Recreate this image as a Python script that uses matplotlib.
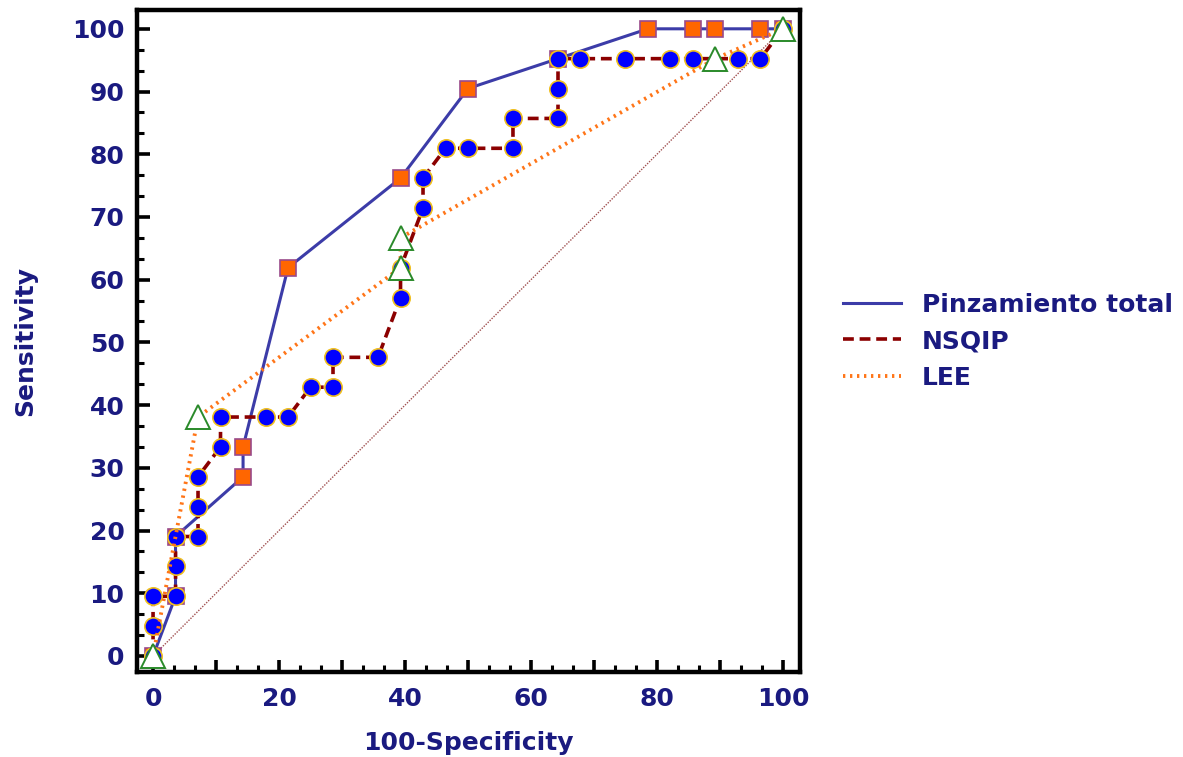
import matplotlib
matplotlib.use("Agg")
import matplotlib.pyplot as plt
from matplotlib.ticker import MultipleLocator
from matplotlib.lines import Line2D

# ROC points (100-Specificity, Sensitivity)
pinz_x = [0, 3.57, 3.57, 14.29, 14.29, 21.43, 39.29, 50.0, 64.29, 78.57, 85.71, 89.29, 96.43, 100]
pinz_y = [0, 9.52, 19.05, 28.57, 33.33, 61.90, 76.19, 90.48, 95.24, 100, 100, 100, 100, 100]

nsqip_x = [0, 0, 0, 3.57, 3.57, 3.57, 7.14, 7.14, 7.14, 10.71, 10.71, 17.86, 21.43, 25.0,
           28.57, 28.57, 35.71, 39.29, 39.29, 42.86, 42.86, 46.43, 50.0, 57.14, 57.14,
           64.29, 64.29, 64.29, 67.86, 75.0, 82.14, 85.71, 92.86, 96.43, 100]
nsqip_y = [0, 4.76, 9.52, 9.52, 14.29, 19.05, 19.05, 23.81, 28.57, 33.33, 38.10, 38.10,
           38.10, 42.86, 42.86, 47.62, 47.62, 57.14, 61.90, 71.43, 76.19, 80.95, 80.95,
           80.95, 85.71, 85.71, 90.48, 95.24, 95.24, 95.24, 95.24, 95.24, 95.24, 95.24, 100]

lee_x = [0, 7.14, 39.29, 39.29, 89.29, 100]
lee_y = [0, 38.10, 61.90, 66.67, 95.24, 100]

series_names = ["Pinzamiento total", "NSQIP", "LEE"]
xticks = list(range(0, 101, 10))
yticks = list(range(0, 101, 10))

navy = "#1a1a80"
fs = 18

fig = plt.figure(figsize=(11.83, 7.57), dpi=100)
ax = fig.add_axes([0.1158, 0.1123, 0.5604, 0.8745])

# chance diagonal
ax.plot([0, 100], [0, 100], ls=(0, (1, 1)), color="#a05050", lw=1.0, zorder=1)

ax.plot(pinz_x, pinz_y, color="#3c3ca8", lw=2.2, marker="s", ms=11.5,
        mfc="#ff6600", mec="#9a4a8a", mew=1.2, label=series_names[0], zorder=2)
ax.plot(nsqip_x, nsqip_y, color="#8b0000", lw=2.6, ls=(0, (3, 1.6)), marker="o", ms=12.5,
        mfc="#0000ff", mec="#f0c020", mew=1.2, label=series_names[1], zorder=3)
ax.plot(lee_x, lee_y, color="#ff7518", lw=2.8, ls=(0, (0.6, 1.2)), marker="^", ms=17,
        mfc="white", mec="#2a8a2a", mew=1.4, label=series_names[2], zorder=4)

ax.set_xlim(-2.55, 102.7)
ax.set_ylim(-2.55, 103.0)

ax.set_xticks(xticks)
ax.set_xticklabels([str(v) if v % 20 == 0 else "" for v in xticks])
ax.set_yticks(yticks)
ax.set_yticklabels([str(v) for v in yticks])
ax.xaxis.set_minor_locator(MultipleLocator(10 / 3))
ax.yaxis.set_minor_locator(MultipleLocator(10 / 3))

ax.tick_params(which="major", direction="in", length=9, width=2.6, pad=9,
               labelsize=fs, labelcolor=navy)
ax.tick_params(which="minor", direction="in", length=5, width=2.2)
ax.tick_params(axis="x", which="major", pad=11)
for lab in ax.get_xticklabels() + ax.get_yticklabels():
    lab.set_fontweight("bold")

for sp in ax.spines.values():
    sp.set_linewidth(3.2)

ax.set_xlabel("100-Specificity", fontsize=fs, fontweight="bold", color=navy, labelpad=14)
ax.set_ylabel("Sensitivity", fontsize=fs, fontweight="bold", color=navy, labelpad=25)

handles = [
    Line2D([], [], color="#3c3ca8", lw=2.2),
    Line2D([], [], color="#8b0000", lw=2.6, ls=(0, (3, 1.6))),
    Line2D([], [], color="#ff7518", lw=2.8, ls=(0, (0.6, 1.2))),
]
leg = fig.legend(handles, series_names, loc="center left", bbox_to_anchor=(0.7126, 0.5495),
                 frameon=False, fontsize=fs, handlelength=2.3, handletextpad=0.85,
                 labelspacing=0.5, borderpad=0, borderaxespad=0)
for t in leg.get_texts():
    t.set_fontweight("bold")
    t.set_color(navy)

fig.savefig("out.png", dpi=100)
